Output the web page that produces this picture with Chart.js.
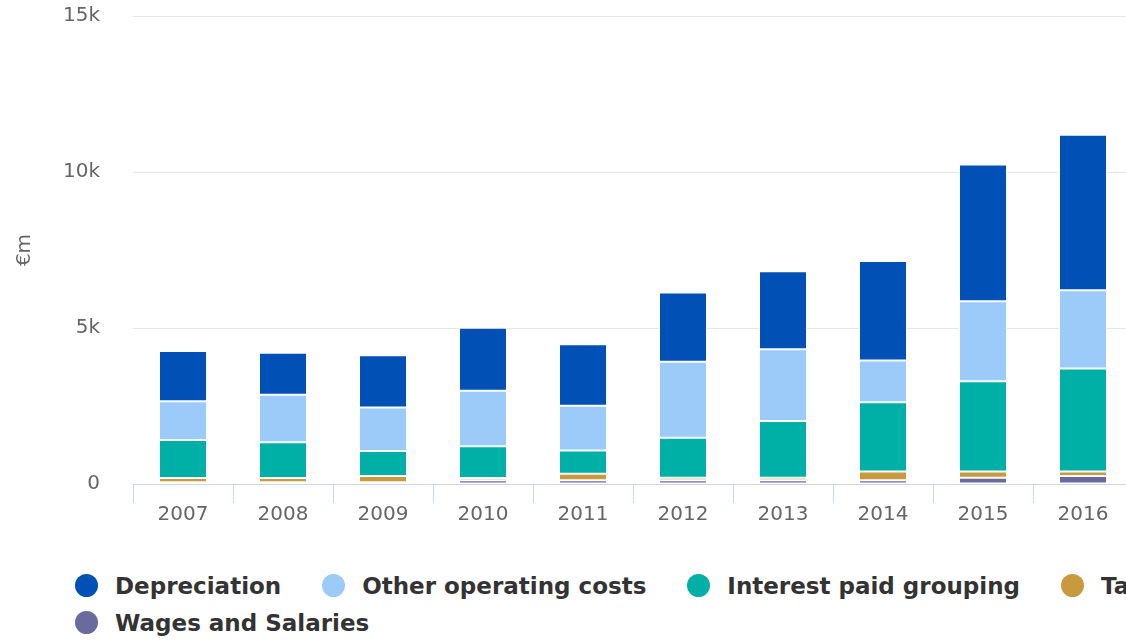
<!DOCTYPE html>
<html>
<head>
<meta charset="utf-8">
<script src="https://cdn.jsdelivr.net/npm/chart.js@4/dist/chart.umd.min.js"></script>
<style>
  body { margin: 0; background: #fff; overflow: hidden; }
  #wrap { position: relative; width: 1143px; height: 527px; }
  #legend { width: 1200px; padding-left: 75px; margin-top: 40px; display: flex; flex-wrap: wrap; }
  .item { display: flex; align-items: center; height: 37px; margin-right: 41px;
          font: bold 23px "DejaVu Sans"; color: #333; white-space: nowrap; }
  .dot { width: 23px; height: 23px; border-radius: 50%; margin-right: 17px; }
</style>
</head>
<body>
<div id="wrap"><canvas id="myChart"></canvas></div>
<div id="legend"></div>
<script>
// values in €m
var years = ['2007', '2008', '2009', '2010', '2011', '2012', '2013', '2014', '2015', '2016'];
var depreciation = [1610, 1350, 1680, 2020, 1970, 2220, 2500, 3190, 4380, 4980];
var otherCosts   = [1240, 1520, 1390, 1780, 1440, 2440, 2300, 1340, 2570, 2510];
var interestPaid = [1220, 1150, 800, 1020, 740, 1280, 1820, 2220, 2890, 3300];
var taxes        = [130, 130, 200, 70, 210, 80, 80, 280, 200, 140];
var wages        = [60, 60, 60, 120, 120, 120, 120, 120, 200, 260];
var yTicks = [0, 5000, 10000, 15000];

var ctx;
var chart;

// builds the html legend from chart.js's own legend items (top series first)
var htmlLegend = {
	id: 'htmlLegend',
	afterUpdate: function(c) {
		var box = document.getElementById('legend');
		box.innerHTML = '';
		var items = c.options.plugins.legend.labels.generateLabels(c).reverse();
		items.forEach(function(it) {
			var el = document.createElement('div');
			el.className = 'item';
			var dot = document.createElement('span');
			dot.className = 'dot';
			dot.style.background = it.fillStyle;
			el.appendChild(dot);
			el.appendChild(document.createTextNode(it.text));
			box.appendChild(el);
		});
	}
};

function makeSet(label, values, colour)
{
	return {
		label: label,
		data: values,
		backgroundColor: colour,
		borderColor: '#ffffff',
		borderWidth: 1,
		borderSkipped: false
	};
}

ctx = document.getElementById('myChart').getContext('2d');
chart = new Chart(ctx, {
	type: 'bar',
	data: {
		labels: years,
		datasets: [
			makeSet('Wages and Salaries', wages, '#6a6a9f'),
			makeSet('Taxes', taxes, '#c9993d'),
			makeSet('Interest paid grouping', interestPaid, '#00b0a6'),
			makeSet('Other operating costs', otherCosts, '#9ccbfa'),
			makeSet('Depreciation', depreciation, '#0050b5')
		]
	},
	options: {
		responsive: true,
		maintainAspectRatio: false,
		animation: false,
		layout: { padding: { top: 16, right: 10, left: 0, bottom: 0 } },
		datasets: { bar: { categoryPercentage: 1, barPercentage: 0.48 } },
		plugins: {
			legend: { display: false },
			tooltip: { enabled: false }
		},
		scales: {
			x: {
				stacked: true,
				grid: { drawOnChartArea: false, color: '#ccd6eb', tickLength: 19 },
				border: { color: '#ccd6eb' },
				ticks: { color: '#666666', font: { family: 'DejaVu Sans', size: 20 }, padding: 0, maxRotation: 0 }
			},
			y: {
				stacked: true,
				min: 0,
				max: 15000,
				afterFit: function(s) { s.width = 133; },
				afterBuildTicks: function(s) { s.ticks = yTicks.map(function(v) { return { value: v }; }); },
				// invisible tick marks give the gap between labels and plot
				grid: { color: '#e6e6e6', drawTicks: true, tickLength: 33, tickColor: 'rgba(0,0,0,0)' },
				border: { display: false },
				ticks: {
					color: '#666666',
					font: { family: 'DejaVu Sans', size: 20 },
					padding: 0,
					callback: function(v) { return v === 0 ? '0' : (v / 1000) + 'k'; }
				},
				title: {
					display: true,
					text: '€m',
					color: '#666666',
					font: { family: 'DejaVu Sans', size: 20 },
					padding: { top: 13, bottom: 0 }
				}
			}
		}
	},
	plugins: [htmlLegend]
});
</script>
</body>
</html>
